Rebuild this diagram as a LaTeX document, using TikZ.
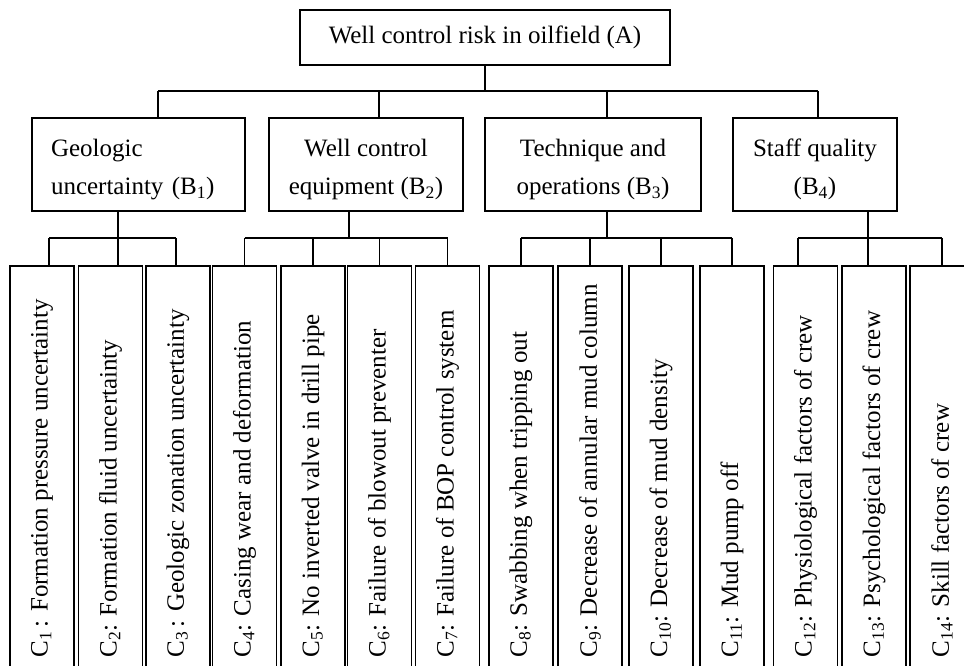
\documentclass[tikz,border=0pt]{standalone}
\usepackage{fontspec}
\setmainfont{Liberation Serif}
\usetikzlibrary{calc}
\newcommand{\bstrut}{\rule{0pt}{28pt}}

\begin{document}
\begin{tikzpicture}[x=1pt,y=-1pt,line width=1.5pt,
    box/.style={draw,inner sep=0pt,align=center,minimum height=93pt,font=\fontsize{25}{38}\selectfont},
    cbox/.style={draw,inner sep=0pt,minimum width=64pt,minimum height=420pt,anchor=north},
    ctext/.style={rotate=90,anchor=west,inner sep=0pt,font=\fontsize{25}{30}\selectfont}]
        \useasboundingbox (0,0) rectangle (964,665);
        \clip (0,0) rectangle (964,665);
        % goal
        \node [box,minimum width=370pt,minimum height=55pt] (a) at (485,37.5) {Well control risk in oilfield (A)};
        % criteria
        \node [box,minimum width=213pt,text width=175pt,align=left] (b1) at (138.5,164.5) {\bstrut Geologic\\uncertainty (B\textsubscript{1})};
        \node [box,minimum width=194pt] (b2) at (366,164.5) {\bstrut Well control\\equipment (B\textsubscript{2})};
        \node [box,minimum width=216pt] (b3) at (593,164.5) {\bstrut Technique and\\operations (B\textsubscript{3})};
        \node [box,minimum width=164pt] (b4) at (815,164.5) {\bstrut Staff quality\\(B\textsubscript{4})};
        % sub-criteria
        \node [cbox] (c1) at (42,265) {};
        \node [cbox] (c2) at (110.5,265) {};
        \node [cbox] (c3) at (178,265) {};
        \node [cbox] (c4) at (244.5,265) {};
        \node [cbox] (c5) at (313,265) {};
        \node [cbox] (c6) at (379.5,265) {};
        \node [cbox] (c7) at (447.5,265) {};
        \node [cbox] (c8) at (521,265) {};
        \node [cbox] (c9) at (590,265) {};
        \node [cbox] (c10) at (661,265) {};
        \node [cbox] (c11) at (732,265) {};
        \node [cbox] (c12) at (805.5,265) {};
        \node [cbox] (c13) at (874,265) {};
        \node [cbox] (c14) at (942,265) {};
        \coordinate (textline) at (0,658);
        \node [ctext] (t1) at (c1.center |- textline) {C\textsubscript{1}\,: Formation pressure uncertainty};
        \node [ctext] (t2) at (c2.center |- textline) {C\textsubscript{2}: Formation fluid uncertainty};
        \node [ctext] (t3) at (c3.center |- textline) {C\textsubscript{3}\,: Geologic zonation uncertainty};
        \node [ctext] (t4) at (c4.center |- textline) {C\textsubscript{4}: Casing wear and deformation};
        \node [ctext] (t5) at (c5.center |- textline) {C\textsubscript{5}: No inverted valve in drill pipe};
        \node [ctext] (t6) at (c6.center |- textline) {C\textsubscript{6}: Failure of blowout preventer};
        \node [ctext] (t7) at (c7.center |- textline) {C\textsubscript{7}: Failure of BOP control system};
        \node [ctext] (t8) at (c8.center |- textline) {C\textsubscript{8}: Swabbing when tripping out};
        \node [ctext] (t9) at (c9.center |- textline) {C\textsubscript{9}: Decrease of annular mud column};
        \node [ctext] (t10) at (c10.center |- textline) {C\textsubscript{10}: Decrease of mud density};
        \node [ctext] (t11) at (c11.center |- textline) {C\textsubscript{11}: Mud pump off};
        \node [ctext] (t12) at (c12.center |- textline) {C\textsubscript{12}: Physiological factors of crew};
        \node [ctext] (t13) at (c13.center |- textline) {C\textsubscript{13}: Psychological factors of crew};
        \node [ctext] (t14) at (c14.center |- textline) {C\textsubscript{14}: Skill factors of crew};
        % bus levels
        \coordinate (bus) at (0,91);
        \coordinate (subbus) at (0,238);
        \coordinate (b1up) at ([xshift=19.5pt]b1.north);
        \coordinate (b2up) at ([xshift=13pt]b2.north);
        \coordinate (b3up) at ([xshift=14pt]b3.north);
        \coordinate (b4up) at ([xshift=3pt]b4.north);
        \coordinate (c1up) at ([xshift=7pt]c1.north);
        \coordinate (c2up) at ([xshift=7.5pt]c2.north);
        \coordinate (c3up) at ([xshift=-2pt]c3.north);
        \coordinate (c12up) at ([xshift=-7.5pt]c12.north);
        \coordinate (c13up) at ([xshift=-6pt]c13.north);
        % A to B
        \draw (a.south) -- (a.south |- bus);
        \draw (b1up |- bus) -- (b4up |- bus);
        \draw (b1up |- bus) -- (b1up);
        \draw (b2up |- bus) -- (b2up);
        \draw (b3up |- bus) -- (b3up);
        \draw (b4up |- bus) -- (b4up);
        % B1 to C
        \draw (c2up |- b1.south) -- (c2up |- subbus);
        \draw (c1up |- subbus) -- (c3up |- subbus);
        \draw (c1up |- subbus) -- (c1up);
        \draw (c2up |- subbus) -- (c2up);
        \draw (c3up |- subbus) -- (c3up);
        % B2 to C
        \draw ([xshift=-17pt]b2.south) -- ([xshift=-17pt]b2.south |- subbus);
        \draw (c4.north |- subbus) -- (c7.north |- subbus);
        \draw (c4.north |- subbus) -- (c4.north);
        \draw (c5.north |- subbus) -- (c5.north);
        \draw (c6.north |- subbus) -- (c6.north);
        \draw (c7.north |- subbus) -- (c7.north);
        % B3 to C
        \draw (b3up |- b3.south) -- (b3up |- subbus);
        \draw (c8.north |- subbus) -- (c11.north |- subbus);
        \draw (c8.north |- subbus) -- (c8.north);
        \draw (c9.north |- subbus) -- (c9.north);
        \draw (c10.north |- subbus) -- (c10.north);
        \draw (c11.north |- subbus) -- (c11.north);
        % B4 to C
        \draw (c13up |- b4.south) -- (c13up |- subbus);
        \draw (c12up |- subbus) -- (c14.north |- subbus);
        \draw (c12up |- subbus) -- (c12up);
        \draw (c13up |- subbus) -- (c13up);
        \draw (c14.north |- subbus) -- (c14.north);
\end{tikzpicture}
\end{document}
